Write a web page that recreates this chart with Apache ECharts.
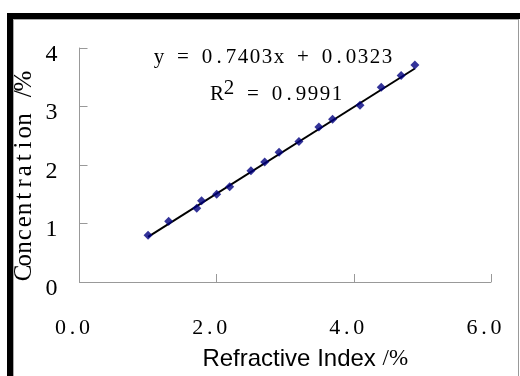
<!DOCTYPE html>
<html>
<head>
<meta charset="utf-8">
<script src="https://cdn.jsdelivr.net/npm/echarts@6/dist/echarts.min.js"></script>
<style>
html, body { margin: 0; padding: 0; background: #fff; }
#chart { width: 520px; height: 376px; }
</style>
</head>
<body>
<div id="chart"></div>
<script>
// 折射率 vs 浓度 数据
var refractiveIndex = [1.00, 1.30, 1.71, 1.78, 2.00, 2.19, 2.50, 2.70, 2.91, 3.20, 3.49, 3.69, 4.09, 4.40, 4.69, 4.89];
var concentration = [0.80, 1.04, 1.26, 1.39, 1.50, 1.63, 1.90, 2.05, 2.22, 2.40, 2.65, 2.78, 3.02, 3.33, 3.53, 3.71];
// 趋势线两端
var trendX = [1.00, 4.89];
var trendY = [0.77, 3.65];
var equationText = 'y = 0.7403x + 0.0323';
var r2Value = '0.9991';
var yName = 'Concentration /%';

var serif = '"Liberation Serif", "Times New Roman", serif';

// 每个字符放进等宽格子（仿宋体半角）
function cells(str, key) {
	var out = '';
	for (var k = 0; k < str.length; k++) {
		out += '{' + key + '|' + str.charAt(k) + '}';
	}
	return out;
}

var pointData = [];
for (var i = 0; i < refractiveIndex.length; i++) {
	pointData.push([refractiveIndex[i], concentration[i]]);
}
var trendData = [];
for (var j = 0; j < trendX.length; j++) {
	trendData.push([trendX[j], trendY[j]]);
}

var myChart = echarts.init(document.getElementById('chart'));
var option = {
	backgroundColor: '#fff',
	animation: false,
	grid: {
		left: 79.5,
		right: 29,
		top: 48,
		bottom: 90.5,
		containLabel: false
	},
	xAxis: {
		type: 'value',
		min: 0,
		max: 6,
		interval: 2,
		name: '{a|Refractive Index }{b|/%}',
		nameLocation: 'middle',
		nameGap: 65,
		nameTextStyle: {
			padding: [0, 0, 0, 40],
			rich: {
				a: { color: '#000', fontFamily: '"Liberation Sans", Arial, sans-serif', fontSize: 24 },
				b: { color: '#000', fontFamily: serif, fontSize: 23 }
			}
		},
		axisLine: { lineStyle: { color: '#999', width: 1 } },
		axisTick: { inside: true, length: 8, lineStyle: { color: '#999' } },
		splitLine: { show: false },
		axisLabel: {
			margin: 35,
			padding: [0, 14, 0, 0],
			formatter: function (v) { return cells(v.toFixed(1), 'c'); },
			rich: {
				c: { color: '#000', fontFamily: serif, fontSize: 22, width: 12, align: 'center' }
			}
		}
	},
	yAxis: {
		type: 'value',
		min: 0,
		max: 4,
		interval: 1,
		axisLine: { show: true, lineStyle: { color: '#999', width: 1 } },
		axisTick: { show: true, inside: true, length: 8, lineStyle: { color: '#999' } },
		splitLine: { show: false },
		axisLabel: {
			color: '#000',
			fontFamily: serif,
			fontSize: 24,
			margin: 22,
			verticalAlign: 'top',
			lineHeight: 13
		}
	},
	graphic: [
		{ type: 'rect', shape: { x: 7, y: 13, width: 513, height: 6 }, style: { fill: '#000' }, silent: true },
		{ type: 'rect', shape: { x: 7, y: 13, width: 6, height: 363 }, style: { fill: '#000' }, silent: true },
		{ type: 'line', shape: { x1: 13, y1: 19.5, x2: 518, y2: 19.5 }, style: { stroke: '#aaa', lineWidth: 1 }, silent: true },
		{ type: 'line', shape: { x1: 13.5, y1: 19, x2: 13.5, y2: 376 }, style: { stroke: '#aaa', lineWidth: 1 }, silent: true },
		{ type: 'line', shape: { x1: 518.5, y1: 19, x2: 518.5, y2: 376 }, style: { stroke: '#999', lineWidth: 1 }, silent: true },
		{
			type: 'text', x: 24, y: 177, rotation: Math.PI / 2, silent: true,
			style: {
				text: cells(yName, 'n'),
				align: 'center',
				verticalAlign: 'middle',
				rich: {
					n: { fill: '#000', fontFamily: serif, fontSize: 25, width: 12.8, align: 'center' }
				}
			}
		},
		{
			type: 'text', x: 153, y: 57, silent: true,
			style: {
				text: cells(equationText, 'e'),
				verticalAlign: 'middle',
				rich: {
					e: { fill: '#000', fontFamily: serif, fontSize: 21, width: 12, align: 'center' }
				}
			}
		},
		{
			type: 'text', x: 211, y: 94, silent: true,
			style: {
				text: cells('R', 'e') + '{s|2}' + cells(' = ' + r2Value, 'e'),
				verticalAlign: 'middle',
				rich: {
					e: { fill: '#000', fontFamily: serif, fontSize: 21, width: 12, align: 'center' },
					s: { fill: '#000', fontFamily: serif, fontSize: 21, width: 12, align: 'center', padding: [0, 0, 11, 0] }
				}
			}
		}
	],
	series: [
		{
			name: 'trend',
			type: 'line',
			data: trendData,
			symbol: 'none',
			lineStyle: { color: '#000', width: 2 },
			z: 2
		},
		{
			name: 'points',
			type: 'scatter',
			data: pointData,
			symbol: 'diamond',
			symbolSize: 9,
			itemStyle: { color: '#000080' },
			z: 3
		}
	]
};
myChart.setOption(option);
</script>
</body>
</html>
